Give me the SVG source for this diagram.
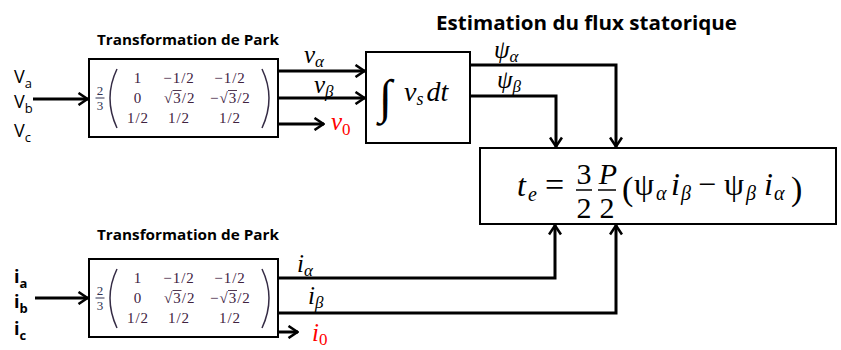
<svg xmlns="http://www.w3.org/2000/svg" width="841" height="350" viewBox="0 0 841 350">
<defs>
<marker id="ah" viewBox="0 0 12 14" refX="11" refY="7" markerWidth="12" markerHeight="14" markerUnits="userSpaceOnUse" orient="auto">
<path d="M1.5,1 L10.5,7 L1.5,13" fill="none" stroke="#000" stroke-width="2.6"/>
</marker>
<style>
.box{fill:#fff;stroke:#000;stroke-width:2}
.wire{fill:none;stroke:#000;stroke-width:3;marker-end:url(#ah)}
.ttl{font-family:"Open Sans","Liberation Sans",sans-serif;font-weight:bold;fill:#000}
.lbl{font-family:"Open Sans","Liberation Sans",sans-serif;fill:#000}
.m{font-family:"Liberation Serif","DejaVu Serif",serif;font-style:italic;fill:#000}
.u{font-family:"Liberation Serif","DejaVu Serif",serif;fill:#000}
.mx{font-family:"Liberation Serif","DejaVu Serif",serif;font-size:15px;letter-spacing:1px;fill:#40223f}
.fr{font-family:"Liberation Serif","DejaVu Serif",serif;font-size:13px;fill:#2e3150}
.par{fill:none;stroke:#352c45;stroke-width:1.5}
.ov{stroke:#40223f;stroke-width:0.9}
.red{fill:#f00}
</style>
</defs>

<text class="ttl" x="436" y="30" font-size="20" textLength="301" lengthAdjust="spacingAndGlyphs">Estimation du flux statorique</text>

<g id="inputs-v">
<text class="lbl" x="14" y="83" font-size="18">V<tspan font-size="13" dy="5">a</tspan></text>
<text class="lbl" x="14" y="108" font-size="18">V<tspan font-size="13" dy="5">b</tspan></text>
<text class="lbl" x="14" y="137" font-size="18">V<tspan font-size="13" dy="5">c</tspan></text>
</g>

<g id="park-v">
<text class="ttl" x="97" y="45" font-size="14" textLength="182" lengthAdjust="spacingAndGlyphs">Transformation de Park</text>
<rect class="box" x="89" y="59" width="189" height="78"/>
<text class="fr" text-anchor="middle"><tspan x="100" y="95">2</tspan><tspan x="100" y="110">3</tspan></text>
<line x1="95.5" y1="98" x2="104.5" y2="98" stroke="#2e3150" stroke-width="1"/>
<path class="par" d="M117,69 Q103,98 117,128"/>
<path class="par" d="M262,69 Q276,98 262,128"/>
<text class="mx" x="138" y="83" text-anchor="middle">1</text>
<text class="mx" x="179" y="83" text-anchor="middle">−1/2</text>
<text class="mx" x="230" y="83" text-anchor="middle">−1/2</text>
<text class="mx" x="138" y="103" text-anchor="middle">0</text>
<text class="mx" x="164" y="103">√3/2</text>
<line class="ov" x1="172.5" y1="90.5" x2="181.5" y2="90.5"/>
<text class="mx" x="210" y="103">−√3/2</text>
<line class="ov" x1="228" y1="90.5" x2="237" y2="90.5"/>
<text class="mx" x="138" y="123" text-anchor="middle">1/2</text>
<text class="mx" x="179" y="123" text-anchor="middle">1/2</text>
<text class="mx" x="230" y="123" text-anchor="middle">1/2</text>
</g>

<g id="integrator">
<rect class="box" x="366" y="52" width="104" height="91"/>
<text class="u" x="379" y="113" font-size="48">∫</text>
<text class="m" x="404" y="101" font-size="28">v<tspan font-size="18" dy="4">s</tspan><tspan dy="-4" dx="3">dt</tspan></text>
</g>

<g id="torque">
<rect class="box" x="480" y="148" width="356" height="76"/>
<text class="m" x="517" y="196" font-size="32">t</text>
<text class="m" x="528" y="201" font-size="20">e</text>
<text class="u" x="545" y="196" font-size="34">=</text>
<text class="u" x="584" y="184" font-size="30" text-anchor="middle">3</text>
<text class="u" x="584" y="218" font-size="30" text-anchor="middle">2</text>
<line x1="576" y1="190" x2="592" y2="190" stroke="#000" stroke-width="1.5"/>
<text class="m" x="608" y="184" font-size="30" text-anchor="middle">P</text>
<text class="u" x="607" y="218" font-size="30" text-anchor="middle">2</text>
<line x1="598" y1="190" x2="616" y2="190" stroke="#000" stroke-width="1.5"/>
<text class="u" x="622" y="200" font-size="34">(</text>
<text class="u" x="634" y="195" font-size="32">ψ</text>
<text class="m" x="656" y="200" font-size="20">α</text>
<text class="m" x="671" y="195" font-size="32">i</text>
<text class="m" x="681" y="200" font-size="20">β</text>
<text class="u" x="698" y="195" font-size="32">−</text>
<text class="u" x="724" y="195" font-size="32">ψ</text>
<text class="m" x="746" y="200" font-size="20">β</text>
<text class="m" x="764" y="195" font-size="32">i</text>
<text class="m" x="774" y="200" font-size="20">α</text>
<text class="u" x="791" y="200" font-size="34">)</text>
</g>

<g id="inputs-i">
<text class="ttl" x="14" y="283" font-size="18">i<tspan font-size="13" dy="5">a</tspan></text>
<text class="ttl" x="14" y="308" font-size="18">i<tspan font-size="13" dy="5">b</tspan></text>
<text class="ttl" x="14" y="335" font-size="18">i<tspan font-size="13" dy="5">c</tspan></text>
</g>

<g id="park-i">
<text class="ttl" x="97" y="240" font-size="14" textLength="182" lengthAdjust="spacingAndGlyphs">Transformation de Park</text>
<rect class="box" x="89" y="259" width="189" height="78"/>
<text class="fr" text-anchor="middle"><tspan x="100" y="295">2</tspan><tspan x="100" y="310">3</tspan></text>
<line x1="95.5" y1="298" x2="104.5" y2="298" stroke="#2e3150" stroke-width="1"/>
<path class="par" d="M117,269 Q103,298 117,328"/>
<path class="par" d="M262,269 Q276,298 262,328"/>
<text class="mx" x="138" y="283" text-anchor="middle">1</text>
<text class="mx" x="179" y="283" text-anchor="middle">−1/2</text>
<text class="mx" x="230" y="283" text-anchor="middle">−1/2</text>
<text class="mx" x="138" y="303" text-anchor="middle">0</text>
<text class="mx" x="164" y="303">√3/2</text>
<line class="ov" x1="172.5" y1="290.5" x2="181.5" y2="290.5"/>
<text class="mx" x="210" y="303">−√3/2</text>
<line class="ov" x1="228" y1="290.5" x2="237" y2="290.5"/>
<text class="mx" x="138" y="323" text-anchor="middle">1/2</text>
<text class="mx" x="179" y="323" text-anchor="middle">1/2</text>
<text class="mx" x="230" y="323" text-anchor="middle">1/2</text>
</g>

<g id="connectors">
<path class="wire" d="M33,99 H88"/>
<path class="wire" d="M278,71 H365"/>
<path class="wire" d="M278,98 H365"/>
<path class="wire" d="M278,124 H324"/>
<path class="wire" d="M470,65 H616 V147"/>
<path class="wire" d="M470,96 H556 V147"/>
<path class="wire" d="M35,298 H88"/>
<path class="wire" d="M278,278 H555 V225"/>
<path class="wire" d="M278,313 H616 V225"/>
<path class="wire" d="M278,332 H298"/>
</g>

<g id="connector-labels">
<text class="m" x="304" y="63" font-size="25">v<tspan font-size="17" dy="4">α</tspan></text>
<text class="m" x="314" y="93" font-size="25">v<tspan font-size="17" dy="4">β</tspan></text>
<text class="m red" x="331" y="130" font-size="25">v<tspan font-style="normal" font-size="17" dy="5">0</tspan></text>
<text class="m" x="494" y="58" font-size="25">ψ<tspan font-size="17" dy="4">α</tspan></text>
<text class="m" x="497" y="88" font-size="25">ψ<tspan font-size="17" dy="4">β</tspan></text>
<text class="m" x="297" y="272" font-size="25">i<tspan font-size="17" dy="4">α</tspan></text>
<text class="m" x="308" y="304" font-size="25">i<tspan font-size="17" dy="4">β</tspan></text>
<text class="m red" x="312" y="341" font-size="25">i<tspan font-style="normal" font-size="17" dy="4">0</tspan></text>
</g>
</svg>
